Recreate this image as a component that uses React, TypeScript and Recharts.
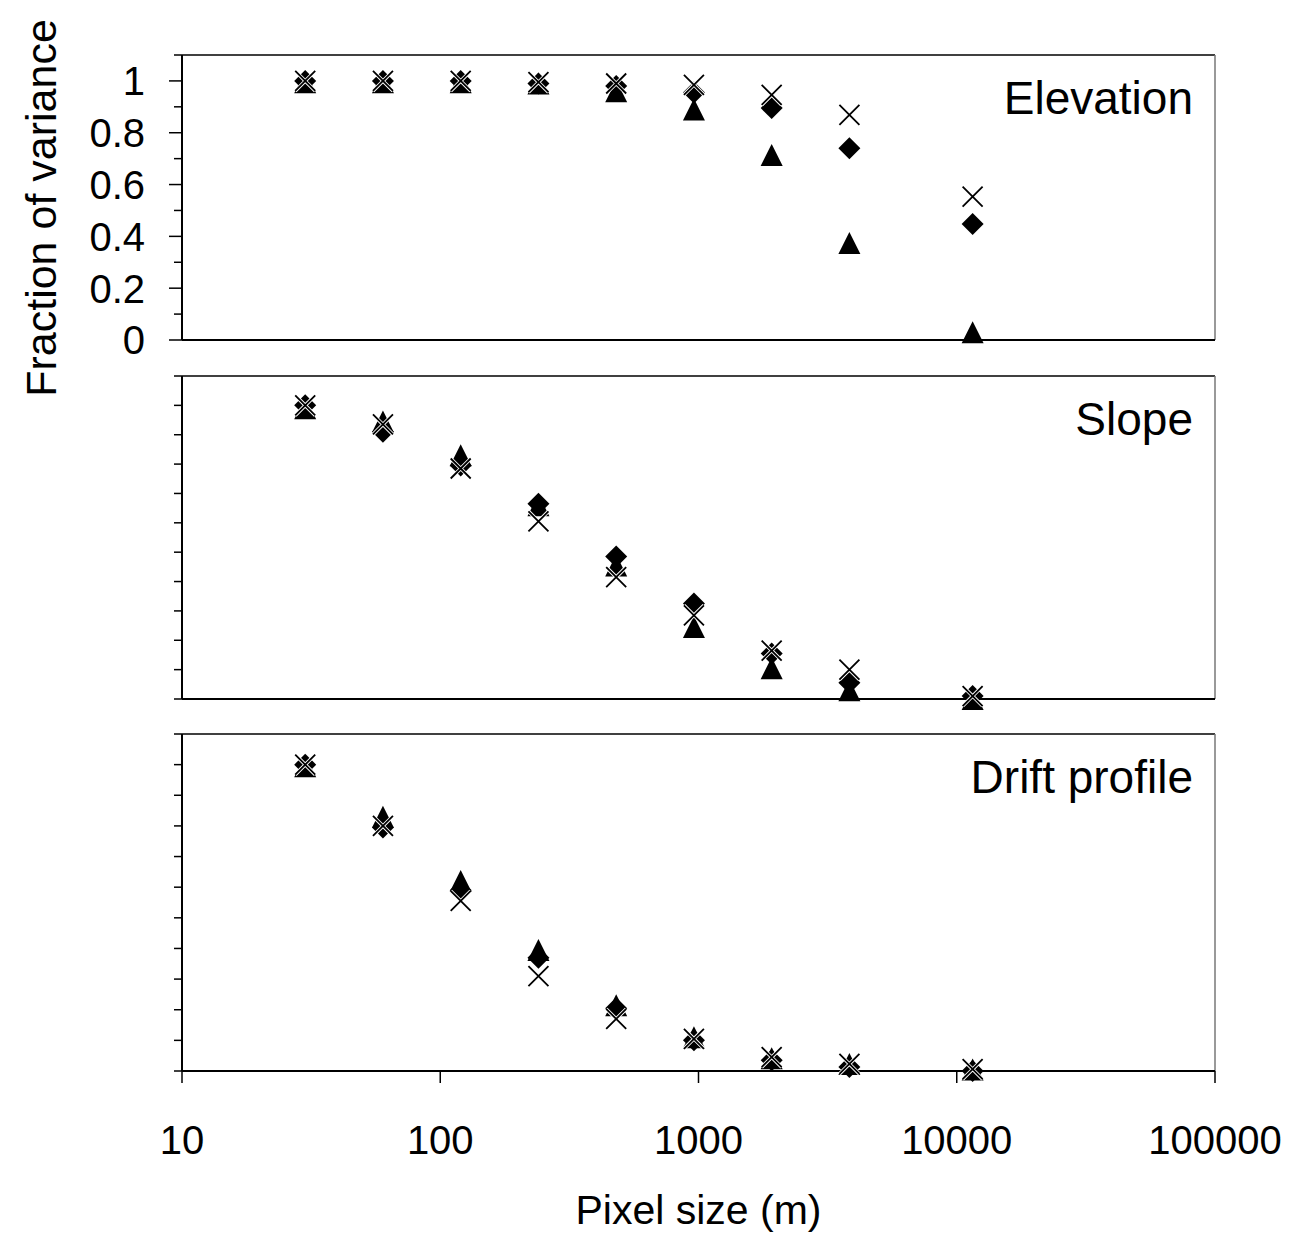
import { ScatterChart, Scatter, XAxis, YAxis, ReferenceLine } from 'recharts';

const FONT = 'Arial, "Liberation Sans", Helvetica, sans-serif';

// pixel sizes (m) on the log x axis
const pixelSizes = [30, 60, 120, 240, 480, 960, 1920, 3840, 11520];

// Elevation
const elevDiamond = [1.0, 1.0, 1.0, 0.99, 0.98, 0.955, 0.895, 0.74, 0.448];
const elevTriangle = [0.995, 0.995, 0.995, 0.99, 0.96, 0.89, 0.714, 0.374, 0.03];
const elevCross = [1.0, 1.0, 1.0, 0.995, 0.99, 0.985, 0.946, 0.869, 0.553];

// Slope
const slopeDiamond = [1.0, 0.91, 0.795, 0.665, 0.485, 0.325, 0.155, 0.055, 0.01];
const slopeTriangle = [0.99, 0.945, 0.83, 0.66, 0.455, 0.245, 0.105, 0.03, 0.0];
const slopeCross = [1.0, 0.935, 0.785, 0.605, 0.415, 0.285, 0.165, 0.1, 0.01];

// Drift profile
const driftDiamond = [1.0, 0.795, 0.59, 0.37, 0.205, 0.1, 0.035, 0.013, 0.0];
const driftTriangle = [0.995, 0.83, 0.62, 0.395, 0.215, 0.11, 0.042, 0.023, 0.005];
const driftCross = [1.0, 0.8, 0.555, 0.31, 0.17, 0.105, 0.045, 0.023, 0.006];

const xTicks = [10, 100, 1000, 10000, 100000];
const yTicks = [0, 0.1, 0.2, 0.3, 0.4, 0.5, 0.6, 0.7, 0.8, 0.9, 1, 1.1];

const toRows = (ys: number[]) => pixelSizes.map((x, i) => ({ x, y: ys[i] }));

const Diamond = (p: any) => {
  const { cx, cy } = p;
  const r = 11;
  return (
    <polygon
      points={`${cx},${cy - r} ${cx + r},${cy} ${cx},${cy + r} ${cx - r},${cy}`}
      fill="#000"
    />
  );
};

const Triangle = (p: any) => {
  const { cx, cy } = p;
  const h = 11;
  return (
    <polygon
      points={`${cx},${cy - h} ${cx + h},${cy + h} ${cx - h},${cy + h}`}
      fill="#000"
    />
  );
};

const Cross = (p: any) => {
  const { cx, cy } = p;
  const r = 10;
  const d = `M${cx - r},${cy - r}L${cx + r},${cy + r}M${cx + r},${cy - r}L${cx - r},${cy + r}`;
  return (
    <g>
      <path d={d} stroke="#fff" strokeWidth={3.6} />
      <path d={d} stroke="#000" strokeWidth={1.8} />
    </g>
  );
};

const YTick = ({ x, y, payload, showLabels, majorLen, minorLen }: any) => {
  const v = payload.value;
  const major = Math.round(v * 10) % 2 === 0;
  const len = major ? majorLen : minorLen;
  return (
    <g>
      <line x1={x - len} x2={x} y1={y} y2={y} stroke="#000" strokeWidth={1.5} />
      {showLabels && major && (
        <text x={x - 37} y={y} dy="0.36em" textAnchor="end" fontSize={40} fill="#000">
          {String(Math.round(v * 10) / 10)}
        </text>
      )}
    </g>
  );
};

const PanelTitle = ({ viewBox, text }: any) => (
  <text
    x={viewBox.x + viewBox.width - 22}
    y={viewBox.y + 59}
    textAnchor="end"
    fontSize={46}
    fill="#000"
  >
    {text}
  </text>
);

const YTitle = () => (
  <text
    transform="translate(56,208) rotate(-90)"
    textAnchor="middle"
    fontSize={43}
    fill="#000"
  >
    Fraction of variance
  </text>
);

interface PanelProps {
  top: number;
  height: number;
  marginTop: number;
  marginBottom: number;
  xAxisHeight: number;
  title: string;
  diamonds: number[];
  triangles: number[];
  crosses: number[];
  first?: boolean;
  last?: boolean;
}

function Panel({
  top,
  height,
  marginTop,
  marginBottom,
  xAxisHeight,
  title,
  diamonds,
  triangles,
  crosses,
  first,
  last,
}: PanelProps) {
  return (
    <div style={{ position: 'absolute', left: 0, top, width: 1291, height }}>
      <ScatterChart
        width={1291}
        height={height}
        margin={{ top: marginTop, right: 76, bottom: marginBottom, left: 122 }}
      >
        <XAxis
          dataKey="x"
          type="number"
          scale="log"
          domain={[10, 100000]}
          ticks={xTicks}
          interval={0}
          height={xAxisHeight}
          axisLine={{ stroke: '#000', strokeWidth: 2 }}
          tickLine={{ stroke: '#000', strokeWidth: 1.5 }}
          tickSize={12}
          tickMargin={43}
          tick={last ? { fontSize: 40, fill: '#000' } : false}
          label={
            last
              ? { value: 'Pixel size (m)', position: 'insideBottom', offset: 10, fontSize: 41, fill: '#000' }
              : undefined
          }
        />
        <YAxis
          dataKey="y"
          type="number"
          domain={[0, 1.1]}
          ticks={yTicks}
          interval={0}
          width={60}
          axisLine={{ stroke: '#000', strokeWidth: 2 }}
          tickLine={false}
          tickSize={0}
          tickMargin={0}
          tick={(p: any) => (
            <YTick {...p} showLabels={!!first} majorLen={first ? 13 : 8} minorLen={8} />
          )}
          label={first ? () => <YTitle /> : undefined}
        />
        <ReferenceLine
          y={1.1}
          stroke="#000"
          strokeWidth={1.5}
          label={(p: any) => <PanelTitle {...p} text={title} />}
        />
        <ReferenceLine x={100000} stroke="#777" strokeWidth={1.5} />
        <Scatter data={toRows(diamonds)} shape={Diamond} isAnimationActive={false} />
        <Scatter data={toRows(triangles)} shape={Triangle} isAnimationActive={false} />
        <Scatter data={toRows(crosses)} shape={Cross} isAnimationActive={false} />
      </ScatterChart>
    </div>
  );
}

export default function App() {
  return (
    <div
      style={{
        position: 'absolute',
        left: 0,
        top: 0,
        width: 1291,
        height: 1234,
        background: '#fff',
        fontFamily: FONT,
      }}
    >
      <Panel
        top={0}
        height={420}
        marginTop={55}
        marginBottom={50}
        xAxisHeight={30}
        title="Elevation"
        diamonds={elevDiamond}
        triangles={elevTriangle}
        crosses={elevCross}
        first
      />
      <Panel
        top={360}
        height={369}
        marginTop={16}
        marginBottom={0}
        xAxisHeight={30}
        title="Slope"
        diamonds={slopeDiamond}
        triangles={slopeTriangle}
        crosses={slopeCross}
      />
      <Panel
        top={720}
        height={514}
        marginTop={14}
        marginBottom={0}
        xAxisHeight={163}
        title="Drift profile"
        diamonds={driftDiamond}
        triangles={driftTriangle}
        crosses={driftCross}
        last
      />
    </div>
  );
}
